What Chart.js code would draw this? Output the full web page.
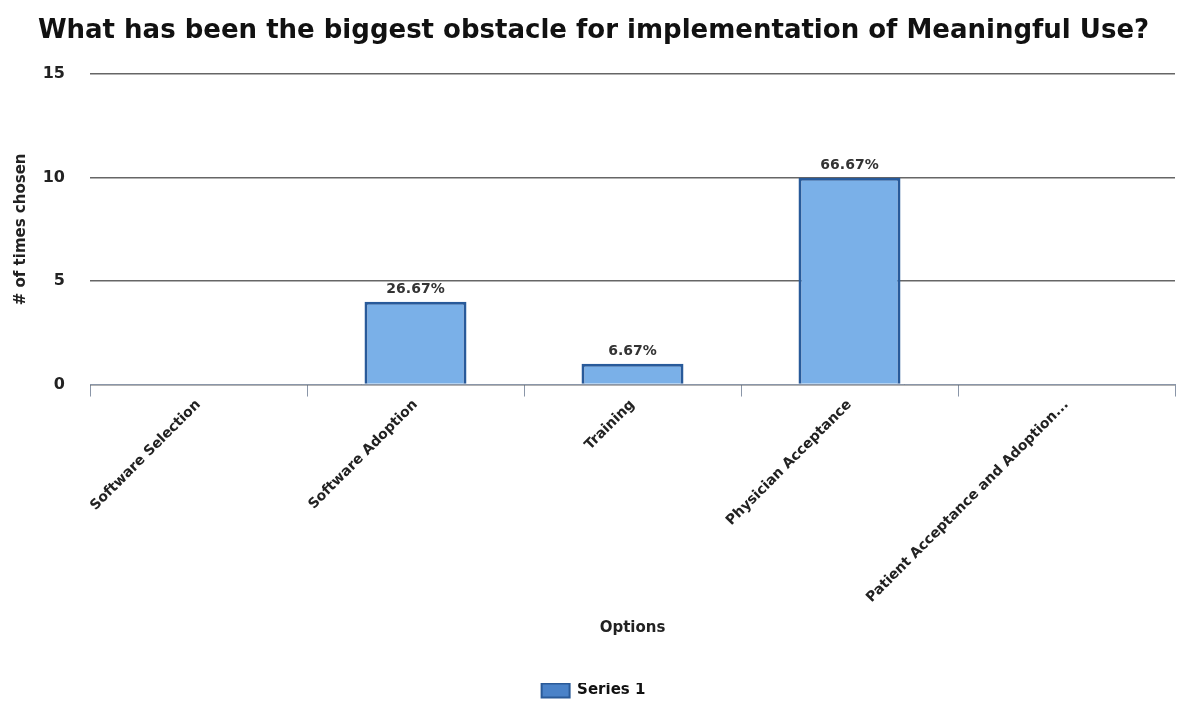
<!DOCTYPE html>
<html>
<head>
<meta charset="utf-8">
<title>Biggest obstacle for Meaningful Use</title>
<script src="https://cdn.jsdelivr.net/npm/chart.js@4/dist/chart.umd.min.js"></script>
<style>
  html, body { margin: 0; padding: 0; background: #fff; }
  #wrap { width: 1177px; height: 702px; }
</style>
</head>
<body>
<div id="wrap"><canvas id="obstacleChart"></canvas></div>
<script>
const options = [
  'Software Selection',
  'Software Adoption',
  'Training',
  'Physician Acceptance',
  'Patient Acceptance and Adoption...'
];
const timesChosen = [0, 4, 1, 10, 0];
const yTicks = [0, 5, 10, 15];

const totalChosen = timesChosen.reduce((a, b) => a + b, 0);

// percentage text above each non-empty bar
const percentLabels = {
  id: 'percentLabels',
  afterDatasetsDraw(chart) {
    const ctx = chart.ctx;
    const meta = chart.getDatasetMeta(0);
    ctx.save();
    ctx.font = 'bold 14px "DejaVu Sans"';
    ctx.fillStyle = '#333';
    ctx.textAlign = 'center';
    ctx.textBaseline = 'bottom';
    meta.data.forEach((bar, i) => {
      const v = timesChosen[i];
      if (!v) return;
      const pct = (v / totalChosen * 100).toFixed(2) + '%';
      ctx.fillText(pct, bar.x, bar.y - 5);
    });
    ctx.restore();
  }
};

new Chart(document.getElementById('obstacleChart'), {
  type: 'bar',
  data: {
    labels: options,
    datasets: [{
      label: 'Series 1',
      data: timesChosen,
      backgroundColor: '#7ab0e8',
      borderColor: '#285a9a',
      borderWidth: 3,
      categoryPercentage: 0.94,
      barPercentage: 0.5
    }]
  },
  options: {
    responsive: true,
    maintainAspectRatio: false,
    animation: false,
    layout: { padding: { left: 12, right: 2, top: 12, bottom: -6 } },
    plugins: {
      title: {
        display: true,
        text: 'What has been the biggest obstacle for implementation of Meaningful Use?',
        color: '#111',
        font: { family: 'DejaVu Sans', size: 26, weight: 'bold' },
        padding: { top: 4, bottom: 27 }
      },
      legend: {
        position: 'bottom',
        labels: {
          color: '#111',
          font: { family: 'DejaVu Sans', size: 15, weight: 'bold' },
          boxWidth: 28,
          boxHeight: 14,
          padding: 0,
          // legend swatch is a darker blue than the bars
          generateLabels(chart) {
            const items = Chart.defaults.plugins.legend.labels.generateLabels(chart);
            items.forEach(item => {
              item.fillStyle = '#4a82c8';
              item.strokeStyle = '#2a5a98';
              item.lineWidth = 2;
            });
            return items;
          }
        }
      },
      tooltip: { enabled: false }
    },
    scales: {
      x: {
        afterFit(axis) {
          axis.paddingLeft = 0;
        },
        grid: {
          offset: true,
          drawOnChartArea: false,
          drawTicks: true,
          tickLength: 12,
          color: '#8a96a8'
        },
        border: { display: true, color: '#8a96a8', width: 1 },
        ticks: {
          color: '#222',
          minRotation: 45,
          maxRotation: 45,
          padding: 0,
          font: { family: 'DejaVu Sans', size: 14, weight: 'bold' }
        },
        title: {
          display: true,
          text: 'Options',
          color: '#222',
          font: { family: 'DejaVu Sans', size: 15, weight: 'bold' },
          padding: { top: 13, bottom: 46 }
        }
      },
      y: {
        min: 0,
        max: 15,
        afterBuildTicks(axis) {
          axis.ticks = yTicks.map(v => ({ value: v }));
        },
        // fixed gutter for the axis title and tick labels
        afterFit(axis) {
          axis.width = 78;
        },
        grid: {
          color: '#666',
          lineWidth: 1.5,
          drawTicks: false
        },
        border: { display: false },
        ticks: {
          color: '#222',
          padding: 25,
          font: { family: 'DejaVu Sans', size: 16, weight: 'bold' }
        },
        title: {
          display: true,
          text: '# of times chosen',
          color: '#222',
          font: { family: 'DejaVu Sans', size: 15, weight: 'bold' },
          padding: { top: 0, bottom: 12 }
        }
      }
    }
  },
  plugins: [percentLabels]
});
</script>
</body>
</html>
